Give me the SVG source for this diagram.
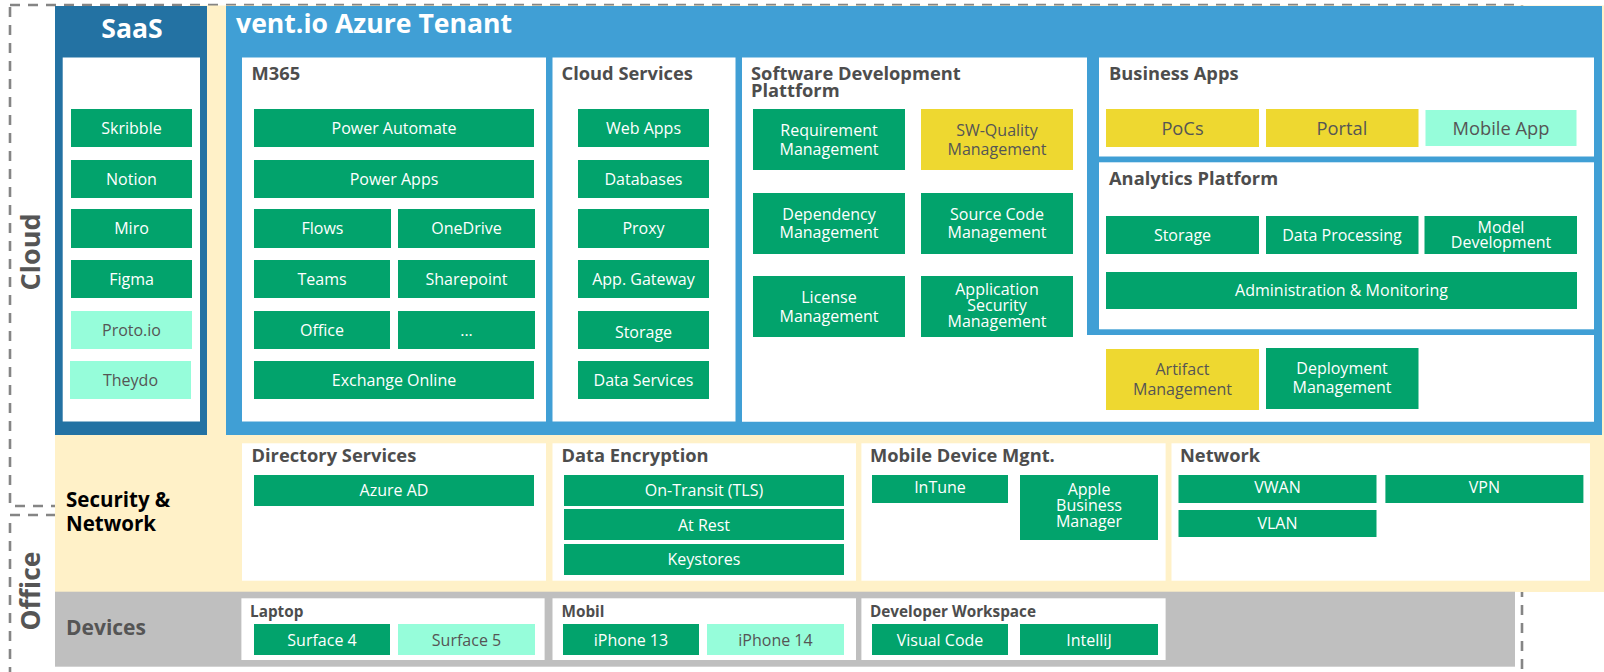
<svg xmlns="http://www.w3.org/2000/svg" width="1604" height="672" viewBox="0 0 1604 672">
<style>
.dash{fill:none;stroke:#858585;stroke-width:2.6;stroke-dasharray:10 8}
.g{fill:#02A36C}
.y{fill:#EED830}
.m{fill:#96FDDA}
.w{fill:#FFFFFF}
.t{font-family:"Open Sans","Noto Sans","DejaVu Sans",sans-serif;font-size:16px;text-anchor:middle}
.tb{font-size:18.3px}
.tw{fill:#FFFFFF}
.td{fill:#555555}
.h{font-family:"Open Sans","Noto Sans","DejaVu Sans",sans-serif;font-size:18.3px;font-weight:bold;fill:#4D4D4D}
.hs{font-family:"Open Sans","Noto Sans","DejaVu Sans",sans-serif;font-size:15.3px;font-weight:bold;fill:#4D4D4D}
.big{font-family:"Open Sans","Noto Sans","DejaVu Sans",sans-serif;font-size:26.6px;font-weight:bold}
.lane{font-family:"Open Sans","Noto Sans","DejaVu Sans",sans-serif;font-weight:bold}
</style>
<!-- region outlines -->
<rect class="dash" x="10" y="5" width="1512" height="501"/>
<rect class="dash" x="10" y="515" width="1512" height="180"/>
<!-- background bands -->
<rect x="188" y="5.5" width="1416" height="586.5" fill="#FFF1C8"/>
<rect x="55" y="430" width="140" height="162" fill="#FFF1C8"/>
<rect x="55" y="591.7" width="1460" height="75" fill="#BFBFBF"/>
<text class="lane" x="40" y="252" font-size="27" fill="#555555" text-anchor="middle" transform="rotate(-90 40 252)">Cloud</text>
<text class="lane" x="40" y="591" font-size="26.5" fill="#555555" text-anchor="middle" transform="rotate(-90 40 591)">Office</text>
<text class="lane" x="66" y="507" font-size="20.5" fill="#000000">Security &amp;</text>
<text class="lane" x="66" y="530.5" font-size="20.5" fill="#000000">Network</text>
<text class="lane" x="66" y="635" font-size="21" fill="#555555">Devices</text>

<!-- SaaS -->
<g id="saas">
<rect x="55" y="6" width="152" height="429" fill="#2372A3"/>
<text class="big" x="132" y="38" fill="#FFFFFF" text-anchor="middle">SaaS</text>
<rect class="w" x="62.7" y="57.5" width="137.3" height="364"/>
<g id="skribble"><rect class="g" x="71" y="109" width="121" height="38"/><text class="t tw" x="131.5" y="133.5">Skribble</text></g>
<g id="notion"><rect class="g" x="71" y="160" width="121" height="38"/><text class="t tw" x="131.5" y="184.5">Notion</text></g>
<g id="miro"><rect class="g" x="71" y="209" width="121" height="39"/><text class="t tw" x="131.5" y="234">Miro</text></g>
<g id="figma"><rect class="g" x="71" y="260" width="121" height="38"/><text class="t tw" x="131.5" y="284.5">Figma</text></g>
<g id="protoio"><rect class="m" x="71" y="311" width="121" height="38"/><text class="t td" x="131.5" y="335.5">Proto.io</text></g>
<g id="theydo"><rect class="m" x="70" y="361" width="121" height="38"/><text class="t td" x="130.5" y="385.5">Theydo</text></g>
</g>

<!-- Azure tenant -->
<g id="tenant">
<rect x="226" y="6" width="1376" height="429" fill="#409FD5"/>
<text class="big" x="236" y="33" fill="#FFFFFF">vent.io Azure Tenant</text>
</g>

<g id="m365">
<rect class="w" x="242" y="57.5" width="304" height="364"/>
<text class="h" x="251.5" y="80">M365</text>
<g id="power-automate"><rect class="g" x="254" y="109" width="280" height="38"/><text class="t tw" x="394" y="133.5">Power Automate</text></g>
<g id="power-apps"><rect class="g" x="254" y="160" width="280" height="38"/><text class="t tw" x="394" y="184.5">Power Apps</text></g>
<g id="flows"><rect class="g" x="254" y="209" width="137" height="39"/><text class="t tw" x="322.5" y="234">Flows</text></g>
<g id="onedrive"><rect class="g" x="398" y="209" width="137" height="39"/><text class="t tw" x="466.5" y="234">OneDrive</text></g>
<g id="teams"><rect class="g" x="254" y="260" width="136" height="38"/><text class="t tw" x="322" y="284.5">Teams</text></g>
<g id="sharepoint"><rect class="g" x="398" y="260" width="137" height="38"/><text class="t tw" x="466.5" y="284.5">Sharepoint</text></g>
<g id="office"><rect class="g" x="254" y="311" width="136" height="38"/><text class="t tw" x="322" y="335.5">Office</text></g>
<g id="more"><rect class="g" x="398" y="311" width="137" height="38"/><text class="t tw" x="466.5" y="335.5">...</text></g>
<g id="exchange"><rect class="g" x="254" y="361" width="280" height="38"/><text class="t tw" x="394" y="385.5">Exchange Online</text></g>
</g>

<g id="cloud-services">
<rect class="w" x="552.5" y="57.5" width="183" height="364"/>
<text class="h" x="561.5" y="80">Cloud Services</text>
<g id="web-apps"><rect class="g" x="578" y="109" width="131" height="38"/><text class="t tw" x="643.5" y="133.5">Web Apps</text></g>
<g id="databases"><rect class="g" x="578" y="160" width="131" height="38"/><text class="t tw" x="643.5" y="184.5">Databases</text></g>
<g id="proxy"><rect class="g" x="578" y="209" width="131" height="39"/><text class="t tw" x="643.5" y="234">Proxy</text></g>
<g id="app-gateway"><rect class="g" x="578" y="260" width="131" height="38"/><text class="t tw" x="643.5" y="284.5">App. Gateway</text></g>
<g id="cs-storage"><rect class="g" x="578" y="311" width="131" height="38"/><text class="t tw" x="643.5" y="338">Storage</text></g>
<g id="data-services"><rect class="g" x="578" y="361" width="131" height="38"/><text class="t tw" x="643.5" y="385.5">Data Services</text></g>
</g>

<g id="sdp">
<path class="w" d="M742,57.5 H1087 V335 H1594 V421.7 H742 Z"/>
<text class="h" x="751" y="80">Software Development</text>
<text class="h" x="751" y="97">Plattform</text>
<g id="requirement"><rect class="g" x="753" y="109" width="152" height="61"/><text class="t tw" x="829" y="135.5">Requirement</text><text class="t tw" x="829" y="154.5">Management</text></g>
<g id="sw-quality"><rect class="y" x="921" y="109" width="152" height="61"/><text class="t td" x="997" y="135.5">SW-Quality</text><text class="t td" x="997" y="154.5">Management</text></g>
<g id="dependency"><rect class="g" x="753" y="193" width="152" height="61"/><text class="t tw" x="829" y="219.5">Dependency</text><text class="t tw" x="829" y="238">Management</text></g>
<g id="source-code"><rect class="g" x="921" y="193" width="152" height="61"/><text class="t tw" x="997" y="219.5">Source Code</text><text class="t tw" x="997" y="238">Management</text></g>
<g id="license"><rect class="g" x="753" y="276" width="152" height="61"/><text class="t tw" x="829" y="303">License</text><text class="t tw" x="829" y="322">Management</text></g>
<g id="app-security"><rect class="g" x="921" y="276" width="152" height="61"/><text class="t tw" x="997" y="295">Application</text><text class="t tw" x="997" y="310.8">Security</text><text class="t tw" x="997" y="326.6">Management</text></g>
<g id="artifact"><rect class="y" x="1106" y="349" width="153" height="61"/><text class="t td" x="1182.5" y="375">Artifact</text><text class="t td" x="1182.5" y="394.5">Management</text></g>
<g id="deployment"><rect class="g" x="1266" y="348" width="152.5" height="61"/><text class="t tw" x="1342" y="374">Deployment</text><text class="t tw" x="1342" y="393">Management</text></g>
</g>

<g id="business-apps">
<rect class="w" x="1099" y="57.5" width="495" height="99"/>
<text class="h" x="1109" y="80">Business Apps</text>
<g id="pocs"><rect class="y" x="1106" y="109" width="153" height="38"/><text class="t tb td" x="1182.5" y="134.5">PoCs</text></g>
<g id="portal"><rect class="y" x="1266" y="109" width="152.5" height="38"/><text class="t tb td" x="1342" y="134.5">Portal</text></g>
<g id="mobile-app"><rect class="m" x="1425.5" y="110" width="151" height="36"/><text class="t tb td" x="1501" y="134.5">Mobile App</text></g>
</g>

<g id="analytics">
<rect class="w" x="1099" y="162.3" width="495" height="167"/>
<text class="h" x="1109" y="185">Analytics Platform</text>
<g id="an-storage"><rect class="g" x="1106" y="216" width="153" height="38"/><text class="t tw" x="1182.5" y="240.5">Storage</text></g>
<g id="data-processing"><rect class="g" x="1266" y="216" width="152.5" height="38"/><text class="t tw" x="1342" y="240.5">Data Processing</text></g>
<g id="model-dev"><rect class="g" x="1424.5" y="216" width="152.5" height="38"/><text class="t tw" x="1501" y="233">Model</text><text class="t tw" x="1501" y="248">Development</text></g>
<g id="admin-monitoring"><rect class="g" x="1106" y="272" width="471" height="37"/><text class="t tw" x="1341.5" y="296">Administration &amp; Monitoring</text></g>
</g>

<!-- Security & Network -->
<g id="directory-services">
<rect class="w" x="242" y="443.3" width="304" height="137.4"/>
<text class="h" x="251.5" y="461.7">Directory Services</text>
<g id="azure-ad"><rect class="g" x="254" y="475" width="280" height="31"/><text class="t tw" x="394" y="496">Azure AD</text></g>
</g>
<g id="data-encryption">
<rect class="w" x="552.5" y="443.3" width="303.5" height="137.4"/>
<text class="h" x="561.5" y="461.7">Data Encryption</text>
<g id="on-transit"><rect class="g" x="564" y="475" width="280" height="31"/><text class="t tw" x="704" y="496">On-Transit (TLS)</text></g>
<g id="at-rest"><rect class="g" x="564" y="509" width="280" height="31"/><text class="t tw" x="704" y="530.5">At Rest</text></g>
<g id="keystores"><rect class="g" x="564" y="544" width="280" height="31"/><text class="t tw" x="704" y="565">Keystores</text></g>
</g>
<g id="mdm">
<rect class="w" x="861.4" y="443.3" width="304.2" height="137.4"/>
<text class="h" x="870" y="461.7">Mobile Device Mgnt.</text>
<g id="intune"><rect class="g" x="872" y="475" width="136" height="28"/><text class="t tw" x="940" y="493">InTune</text></g>
<g id="apple-bm"><rect class="g" x="1020" y="475" width="138" height="65"/><text class="t tw" x="1089" y="495">Apple</text><text class="t tw" x="1089" y="511">Business</text><text class="t tw" x="1089" y="527">Manager</text></g>
</g>
<g id="network">
<rect class="w" x="1171.5" y="443.3" width="418.5" height="137.4"/>
<text class="h" x="1180" y="461.7">Network</text>
<g id="vwan"><rect class="g" x="1178.5" y="475" width="198" height="28"/><text class="t tw" x="1277.5" y="493">VWAN</text></g>
<g id="vpn"><rect class="g" x="1385.4" y="475" width="198" height="28"/><text class="t tw" x="1484.4" y="493">VPN</text></g>
<g id="vlan"><rect class="g" x="1178.5" y="510" width="198" height="27"/><text class="t tw" x="1277.5" y="529">VLAN</text></g>
</g>

<!-- Devices -->
<g id="laptop">
<rect class="w" x="241.4" y="598.3" width="303.2" height="61.7"/>
<text class="hs" x="250" y="617.3">Laptop</text>
<g id="surface4"><rect class="g" x="254" y="624" width="136" height="31"/><text class="t tw" x="322" y="645.5">Surface 4</text></g>
<g id="surface5"><rect class="m" x="398" y="624" width="137" height="31"/><text class="t td" x="466.5" y="645.5">Surface 5</text></g>
</g>
<g id="mobil">
<rect class="w" x="552.5" y="598.3" width="303.5" height="61.7"/>
<text class="hs" x="561.5" y="617.3">Mobil</text>
<g id="iphone13"><rect class="g" x="563" y="624" width="136" height="31"/><text class="t tw" x="631" y="645.5">iPhone 13</text></g>
<g id="iphone14"><rect class="m" x="707" y="624" width="137" height="31"/><text class="t td" x="775.5" y="645.5">iPhone 14</text></g>
</g>
<g id="dev-workspace">
<rect class="w" x="861.4" y="598.3" width="304.2" height="61.7"/>
<text class="hs" x="870" y="617.3">Developer Workspace</text>
<g id="visual-code"><rect class="g" x="872" y="624" width="136" height="31"/><text class="t tw" x="940" y="645.5">Visual Code</text></g>
<g id="intellij"><rect class="g" x="1020" y="624" width="138" height="31"/><text class="t tw" x="1089" y="645.5">IntelliJ</text></g>
</g>
<g id="connectors"></g>
</svg>
